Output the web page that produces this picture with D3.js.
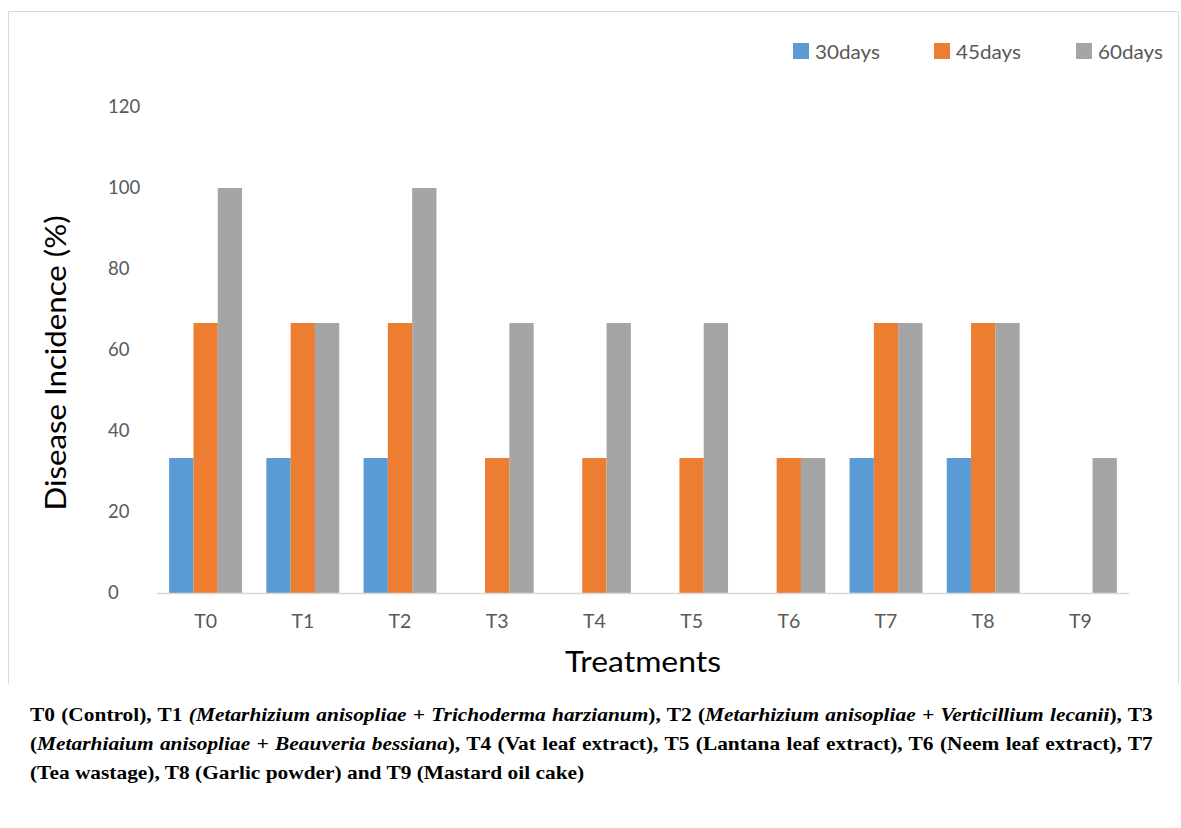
<!DOCTYPE html>
<html><head><meta charset="utf-8">
<script src="https://cdn.jsdelivr.net/npm/d3@7"></script>
<style>
html,body{margin:0;padding:0;background:#fff;}
#wrap{position:relative;width:1181px;height:828px;overflow:hidden;}
svg{position:absolute;left:0;top:0;}
.cap{position:absolute;left:30px;width:998px;font-family:"Liberation Serif","Times New Roman",serif;font-weight:bold;font-size:19px;line-height:19px;color:#000;white-space:nowrap;transform:scaleX(1.125);transform-origin:0 0;}
.cap.j{text-align:justify;text-align-last:justify;white-space:normal;}
</style></head>
<body><div id="wrap"></div>
<script>
const categories = ["T0","T1","T2","T3","T4","T5","T6","T7","T8","T9"];
const seriesNames = ["30days","45days","60days"];
const days30 = [33.33,33.33,33.33,0,0,0,0,33.33,33.33,0];
const days45 = [66.67,66.67,66.67,33.33,33.33,33.33,33.33,66.67,66.67,0];
const days60 = [100,66.67,100,66.67,66.67,66.67,33.33,66.67,66.67,33.33];
const yTicks = [0,20,40,60,80,100,120];
const colors = ["#5B9BD5","#ED7D31","#A5A5A5"];
const seriesValues = [days30, days45, days60];

const W = 1181, H = 828;
const wrap = d3.select("#wrap");
const svg = wrap.append("svg").attr("width", W).attr("height", H);

// frame
const frame = svg.append("g").attr("stroke","#D9D9D9").attr("stroke-width",1).attr("fill","none");
frame.append("path").attr("d","M8.5,684 L8.5,11.5 L1178.5,11.5 L1178.5,684");

const x0 = d3.scaleBand().domain(categories).range([157,1129]).paddingInner(0.25).paddingOuter(0.125);
const x1 = d3.scaleBand().domain(seriesNames).range([0, x0.bandwidth()]);
const y = d3.scaleLinear().domain([0,120]).range([593,107]);

const font = "Lato, 'Open Sans', sans-serif";

// y tick labels
svg.append("g").selectAll("text").data(yTicks).join("text")
  .attr("x",108).attr("y",d=>y(d)).attr("dy","0.35em")
  .attr("font-family",font).attr("font-size",18.5).attr("fill","#595959")
  .text(d=>d);

// bars
const groups = svg.append("g").selectAll("g").data(categories).join("g")
  .attr("transform",d=>`translate(${x0(d)},0)`);
groups.selectAll("rect").data((c,i)=>seriesNames.map((s,k)=>({s,k,v:seriesValues[k][i]})))
  .join("rect")
  .attr("x",d=>x1(d.s)).attr("width",x1.bandwidth())
  .attr("y",d=>y(d.v)).attr("height",d=>y(0)-y(d.v))
  .attr("fill",d=>colors[d.k]);

// x axis line
svg.append("line").attr("x1",157).attr("x2",1129).attr("y1",593.5).attr("y2",593.5)
  .attr("stroke","#D9D9D9").attr("stroke-width",1.5);

// x tick labels
const xAxis = d3.axisBottom(x0).tickSize(0).tickPadding(0);
const gx = svg.append("g").attr("transform","translate(0,613)").call(xAxis);
gx.select(".domain").remove();
gx.selectAll("text").attr("font-family",font).attr("font-size",19.5).attr("fill","#595959").attr("dy","0.35em").attr("y",8);

// axis titles
svg.append("text").attr("x",643).attr("y",662).attr("dy","0.35em").attr("text-anchor","middle")
  .attr("font-family",font).attr("font-size",28).attr("fill","#000")
  .attr("textLength",156).attr("lengthAdjust","spacingAndGlyphs").text("Treatments");
svg.append("text").attr("transform","translate(56,363) rotate(-90)").attr("dy","0.35em").attr("text-anchor","middle")
  .attr("font-family",font).attr("font-size",29).attr("fill","#000")
  .attr("textLength",295).attr("lengthAdjust","spacingAndGlyphs").text("Disease Incidence (%)");

// legend
const legX = [793, 934, 1076];
const leg = svg.append("g").selectAll("g").data(seriesNames).join("g")
  .attr("transform",(d,i)=>`translate(${legX[i]},43)`);
leg.append("rect").attr("width",16).attr("height",16).attr("fill",(d,i)=>colors[i]);
leg.append("text").attr("x",22).attr("y",8.5).attr("dy","0.35em")
  .attr("font-family",font).attr("font-size",20).attr("fill","#595959")
  .attr("textLength",65).attr("lengthAdjust","spacingAndGlyphs").text(d=>d);

// caption
const captionLines = [
  {cls:"cap j", top:704.5, html:'T0 (Control), T1 <i>(Metarhizium anisopliae + Trichoderma harzianum</i>), T2 (<i>Metarhizium anisopliae + Verticillium lecanii</i>), T3'},
  {cls:"cap j", top:734, html:'(<i>Metarhiaium anisopliae + Beauveria bessiana</i>), T4 (Vat leaf extract), T5 (Lantana leaf extract), T6 (Neem leaf extract), T7'},
  {cls:"cap", top:763, html:'(Tea wastage), T8 (Garlic powder) and T9 (Mastard oil cake)'}
];
wrap.selectAll("div.cap").data(captionLines).join("div")
  .attr("class",d=>d.cls).style("top",d=>d.top+"px").html(d=>d.html);
</script>
</body></html>
